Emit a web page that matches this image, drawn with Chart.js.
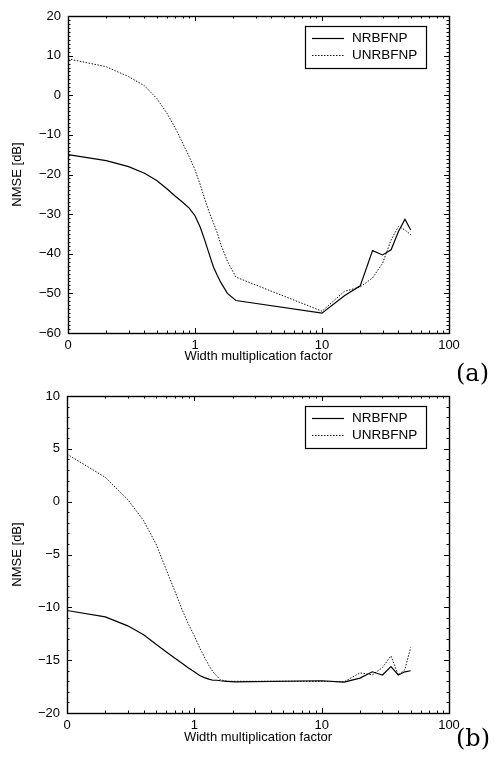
<!DOCTYPE html>
<html>
<head>
<meta charset="utf-8">
<script src="https://cdn.jsdelivr.net/npm/chart.js@4.4.1/dist/chart.umd.min.js"></script>
<style>
  body { margin: 0; background: #fff; width: 494px; height: 762px; overflow: hidden; position: relative; }
  .panel { position: absolute; left: 0; width: 494px; height: 381px; }
  .tag { position: absolute; left: 456px; font: 24px "DejaVu Serif", serif; line-height: 24px; color: #000; }
</style>
</head>
<body>
<div class="panel" style="top:0"><canvas id="chartA" width="494" height="381"></canvas></div>
<div class="panel" style="top:381px"><canvas id="chartB" width="494" height="381"></canvas></div>
<div class="tag" style="top:361px">(a)</div>
<div class="tag" style="top:726px">(b)</div>
<script>
// x values shared by both panels (width multiplication factor)
const widthFactor = [0.1, 0.2, 0.3, 0.4, 0.5, 0.6, 0.7, 0.8, 0.9, 1, 1.1, 1.2, 1.3, 1.4, 1.5, 1.6, 1.8, 2.1,
                     10, 15, 20, 25, 30, 35, 40, 45, 50];

// panel (a)
const nrbfnpA   = [-15.0, -16.5, -18.0, -19.7, -21.5, -23.6, -25.5, -27.0, -28.5, -30.4, -33.3, -36.8, -40.3, -43.4, -45.5, -47.3, -50.0, -51.8,
                   -55.0, -50.6, -48.1, -39.2, -40.3, -39.0, -34.4, -31.3, -34.0];
const unrbfnpA  = [9.2, 7.2, 4.7, 2.4, -0.8, -4.5, -8.3, -12.1, -15.5, -18.8, -22.6, -26.4, -29.7, -32.3, -34.8, -37.7, -41.9, -45.9,
                   -54.5, -49.5, -48.4, -46.1, -42.4, -36.5, -33.1, -34.0, -35.2];

// panel (b)
const nrbfnpB   = [-10.3, -10.9, -11.75, -12.6, -13.5, -14.2, -14.8, -15.3, -15.75, -16.1, -16.45, -16.65, -16.8, -16.9, -16.9, -16.95, -17.0, -17.05,
                   -16.95, -17.07, -16.7, -16.1, -16.4, -15.6, -16.4, -16.1, -16.0];
const unrbfnpB  = [4.5, 2.3, 0.2, -1.8, -4.0, -6.4, -8.4, -10.2, -11.6, -12.7, -13.8, -14.7, -15.5, -16.1, -16.5, -16.85, -17.0, -17.0,
                   -17.0, -17.05, -16.2, -16.4, -15.7, -14.6, -16.4, -15.9, -13.8];

const seriesNames = ['NRBFNP', 'UNRBFNP'];
const xTickValues = [0.1, 1, 10, 100];
const xTickLabels = ['0', '1', '10', '100'];
const xTitle = 'Width multiplication factor';
const yTitle = 'NMSE [dB]';

const tickFont = { family: '"Liberation Sans", Arial, sans-serif', size: 13 };
const titleFont = { family: '"Liberation Sans", Arial, sans-serif', size: 13 };

// box, plus inward ticks on all four sides
const frameTicks = {
  id: 'frameTicks',
  afterDatasetsDraw(chart, args, opts) {
    const { ctx, chartArea: a, scales: { x, y } } = chart;
    ctx.save();
    ctx.strokeStyle = '#000';
    ctx.lineWidth = 1;
    ctx.beginPath();
    [0.1, 1, 10].forEach(d => {
      for (let m = 1; m <= 10; m++) {
        const px = Math.round(x.getPixelForValue(d * m)) + 0.5;
        const len = (m === 1 || m === 10) ? 5 : 2.5;
        ctx.moveTo(px, a.bottom); ctx.lineTo(px, a.bottom - len);
        ctx.moveTo(px, a.top); ctx.lineTo(px, a.top + len);
      }
    });
    for (let v = y.min; v <= y.max; v += opts.minor) {
      const py = Math.round(y.getPixelForValue(v)) + 0.5;
      const len = (v % opts.major === 0) ? 5 : 2.5;
      ctx.moveTo(a.left, py); ctx.lineTo(a.left + len, py);
      ctx.moveTo(a.right, py); ctx.lineTo(a.right - len, py);
    }
    ctx.stroke();
    ctx.lineWidth = 1.4;
    ctx.strokeRect(Math.round(a.left) + 0.5, Math.round(a.top) + 0.5, Math.round(a.right - a.left), Math.round(a.bottom - a.top));
    ctx.restore();
  }
};

// legend in a boxed frame, top right inside the plot
const boxLegend = {
  id: 'boxLegend',
  afterDraw(chart) {
    const { ctx, chartArea: a } = chart;
    const left = a.right - 144, top = a.top + 10, w = 121, h = 42;
    ctx.save();
    ctx.fillStyle = '#fff';
    ctx.fillRect(left, top, w, h);
    ctx.strokeStyle = '#000';
    ctx.lineWidth = 1.2;
    ctx.strokeRect(left + 0.5, top + 0.5, w, h);
    ctx.font = '13.5px "Liberation Sans", Arial, sans-serif';
    ctx.textBaseline = 'middle';
    ctx.fillStyle = '#000';
    chart.data.datasets.forEach((ds, i) => {
      const yy = top + 12.5 + i * 17;
      ctx.beginPath();
      ctx.lineWidth = ds.borderWidth;
      ctx.strokeStyle = ds.borderColor;
      ctx.setLineDash(ds.borderDash || []);
      ctx.moveTo(left + 7, yy); ctx.lineTo(left + 39, yy);
      ctx.stroke();
      ctx.setLineDash([]);
      ctx.fillText(ds.label, left + 47, yy);
    });
    ctx.restore();
  }
};

function makePanel(id, nrbf, unrbf, yMin, yMax, yMajor, pad) {
  const pts = vals => widthFactor.map((w, i) => ({ x: w, y: vals[i] }));
  return new Chart(document.getElementById(id), {
    type: 'line',
    data: {
      datasets: [
        { label: seriesNames[0], data: pts(nrbf), borderColor: '#000', borderWidth: 1.2, pointRadius: 0, tension: 0 },
        { label: seriesNames[1], data: pts(unrbf), borderColor: '#111', borderWidth: 1, borderDash: [1.5, 1.5], pointRadius: 0, tension: 0 }
      ]
    },
    options: {
      responsive: false,
      animation: false,
      devicePixelRatio: 1,
      layout: { padding: { top: pad.top, right: 45, bottom: 0, left: 0 } },
      plugins: { legend: { display: false }, tooltip: { enabled: false }, frameTicks: { major: yMajor, minor: 1 } },
      scales: {
        x: {
          type: 'logarithmic', min: 0.1, max: 100,
          grid: { display: false, drawTicks: false }, border: { display: false },
          afterBuildTicks: s => { s.ticks = xTickValues.map(v => ({ value: v })); },
          ticks: { autoSkip: false, maxRotation: 0, padding: 5, color: '#000', font: tickFont,
                   callback: v => xTickLabels[xTickValues.indexOf(v)] },
          title: { display: true, text: xTitle, color: '#000', font: titleFont, padding: { top: 2, bottom: pad.titleBottom } },
          afterFit: s => { s.height = pad.bottomAxis; }
        },
        y: {
          min: yMin, max: yMax,
          grid: { display: false, drawTicks: false }, border: { display: false },
          ticks: { stepSize: yMajor, padding: 7, color: '#000', font: tickFont,
                   callback: v => String(v).replace('-', '\u2212') },
          title: { display: true, text: yTitle, color: '#000', font: titleFont, padding: { top: 10, bottom: 0 } },
          afterFit: s => { s.width = pad.leftAxis; }
        }
      }
    },
    plugins: [frameTicks, boxLegend]
  });
}

makePanel('chartA', nrbfnpA, unrbfnpA, -60, 20, 10, { top: 16, bottomAxis: 48, leftAxis: 68, titleBottom: 17 });
makePanel('chartB', nrbfnpB, unrbfnpB, -20, 10, 5, { top: 15, bottomAxis: 49, leftAxis: 67, titleBottom: 17 });
</script>
</body>
</html>
